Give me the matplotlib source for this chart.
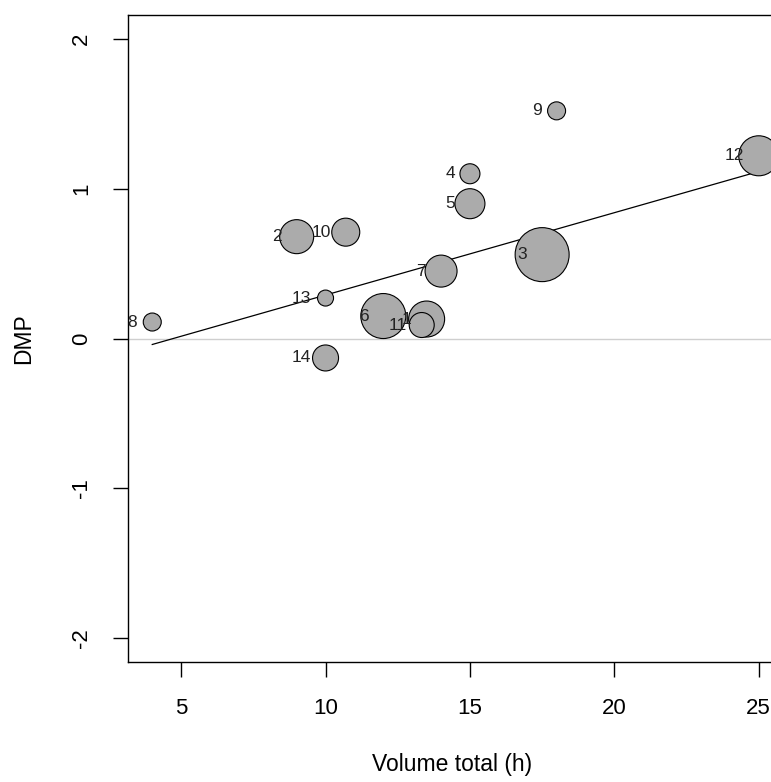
import matplotlib
matplotlib.use("Agg")
import matplotlib.pyplot as plt
import numpy as np

plt.rcParams['font.family'] = ['Liberation Sans', 'DejaVu Sans']

# ---- data ----
labels = ['1', '2', '3', '4', '5', '6', '7', '8', '9', '10', '11', '12', '13', '14']
volume = [13.5, 9.0, 17.5, 15.0, 15.0, 12.0, 14.0, 4.0, 18.0, 10.7, 13.33, 25.0, 10.0, 10.0]
dmp = [0.13, 0.68, 0.56, 1.10, 0.90, 0.15, 0.45, 0.11, 1.52, 0.71, 0.09, 1.22, 0.27, -0.13]
weight = [18, 17, 27, 10, 15, 22.5, 16, 9, 9, 14, 12.5, 20, 8, 13]   # relative bubble radius
fit_intercept = -0.26
fit_slope = 0.055
xticks = [5, 10, 15, 20, 25]
yticks = [-2, -1, 0, 1, 2]

W, H = 771, 782
fig = plt.figure(figsize=(W / 100, H / 100), dpi=100)
ax = fig.add_axes([128 / W, 1 - 662 / H, (783 - 128) / W, (662 - 15) / H])

ax.set_xlim(3.16, 25.84)
ax.set_ylim(-2.16, 2.16)

# zero reference line
ax.axhline(0, color='#cfcfcf', lw=1.0, zorder=1)

# regression line
xs = np.array([min(volume), max(volume)])
ax.plot(xs, fit_intercept + fit_slope * xs, color='black', lw=0.9, zorder=2)

# bubbles: largest first
px2pt = 0.72
order = np.argsort(weight)[::-1]
vx = np.array(volume)[order]
vy = np.array(dmp)[order]
sz = (2 * np.array(weight)[order] * px2pt) ** 2
ax.scatter(vx, vy, s=sz, facecolor='#ababab', edgecolor='black', linewidth=0.8, zorder=3)

for lab, xv, yv in zip(labels, volume, dmp):
    t = ax.annotate(lab, (xv, yv), xytext=(-15 * px2pt, 0), textcoords='offset points',
                    ha='right', va='center', fontsize=12.5, color='#222222',
                    zorder=4, annotation_clip=True)
    t.set_clip_on(True)
    t.set_clip_box(ax.bbox)

ax.set_xticks(xticks)
ax.set_yticks(yticks)
ax.set_xticklabels([str(t) for t in xticks])
ax.set_yticklabels([str(t) for t in yticks], rotation=90, va='center')
ax.tick_params(axis='both', direction='out', length=11, width=1.0, labelsize=16, colors='black')
ax.tick_params(axis='x', pad=15)
ax.tick_params(axis='y', pad=15)

for s in ['left', 'top', 'bottom', 'right']:
    ax.spines[s].set_linewidth(1.0)
    ax.spines[s].set_color('black')

ax.set_xlabel('Volume total (h)', fontsize=16.5)
ax.set_ylabel('DMP', fontsize=16.5)
ax.xaxis.set_label_coords((452 - 128) / (783 - 128), -(765 - 662) / (662 - 15))
ax.yaxis.set_label_coords(-(128 - 24) / (783 - 128), 0.5)
ax.xaxis.label.set_va('center')
ax.yaxis.label.set_va('center')

fig.savefig('out.png', dpi=100)
